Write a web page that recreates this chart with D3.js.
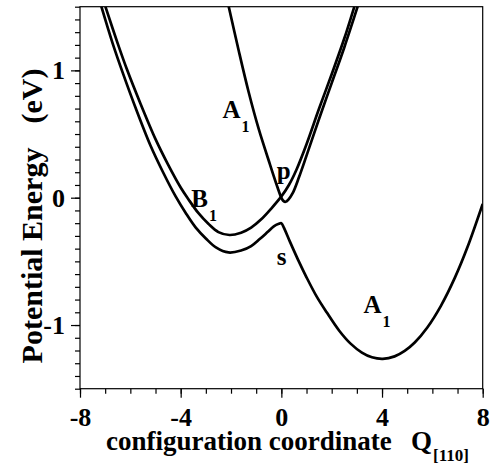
<!DOCTYPE html>
<html>
<head>
<meta charset="utf-8">
<script src="https://cdn.jsdelivr.net/npm/d3@7"></script>
<style>
  body { margin: 0; background: #fff; }
  text { font-family: "Liberation Serif", "Times New Roman", serif; font-weight: bold; fill: #000; }
</style>
</head>
<body>
<svg id="chart" width="493" height="476"></svg>
<script>
// values: Q = configuration coordinate, E = energy (eV)
const upperB1Q = [-6.99, -6.5, -6.14, -5.6, -5.0, -4.5, -4.0, -3.7, -3.3, -2.9, -2.5, -2.06, -1.6, -1.2, -0.8, -0.4, 0, 0.3, 0.6, 1.0, 1.5, 2.0, 2.5, 2.9];
const upperB1E = [1.5, 1.21, 1.01, 0.74, 0.46, 0.26, 0.08, -0.01, -0.12, -0.205, -0.27, -0.293, -0.275, -0.235, -0.17, -0.085, 0.01, 0.1, 0.22, 0.42, 0.7, 0.97, 1.25, 1.5];

const lowerQ = [-7.15, -6.7, -6.3, -5.8, -5.2, -4.7, -4.2, -3.8, -3.4, -3.0, -2.6, -2.1, -1.6, -1.2, -0.86, -0.55, -0.3, -0.1, 0.0, 0.1, 0.34, 0.67, 1.0, 1.4, 1.8, 2.3, 2.74, 3.2, 3.6, 4.03, 4.5, 4.9, 5.3, 5.8, 6.34, 6.9, 7.4, 8.0];
const lowerE = [1.5, 1.21, 0.98, 0.71, 0.41, 0.2, 0.01, -0.12, -0.235, -0.32, -0.39, -0.43, -0.415, -0.38, -0.325, -0.27, -0.225, -0.205, -0.2, -0.235, -0.345, -0.49, -0.625, -0.775, -0.9, -1.045, -1.144, -1.216, -1.253, -1.265, -1.246, -1.203, -1.137, -1.019, -0.849, -0.626, -0.386, -0.049];

const upperA1Q = [-2.09, -1.7, -1.3, -0.9, -0.45, -0.15, 0.0, 0.08, 0.17, 0.28, 0.45, 0.7, 1.0, 1.5, 2.0, 2.5, 3.03];
const upperA1E = [1.5, 1.16, 0.83, 0.54, 0.26, 0.08, 0.0, -0.025, -0.032, -0.015, 0.035, 0.16, 0.33, 0.62, 0.9, 1.18, 1.5];

const xMajorTicks = [-8, -4, 0, 4, 8];
const yMajorTicks = [-1, 0, 1];

// state labels: main letter, subscript, position in data units
const labelText = ["A", "p", "B", "s", "A"];
const labelSub = ["1", "", "1", "", "1"];
const labelQ = [-2.34, -0.18, -3.58, -0.18, 3.26];
const labelE = [0.625, 0.147, -0.073, -0.528, -0.904];

const svg = d3.select("#chart");
const plotLeft = 80, plotRight = 482.7, plotTop = 6.7, plotBottom = 388.7;

const x = d3.scaleLinear().domain([-8, 8]).range([plotLeft, plotRight]);
const y = d3.scaleLinear().domain([-1.5, 1.5]).range([plotBottom, plotTop]);

svg.append("clipPath").attr("id", "clip")
  .append("rect")
  .attr("x", plotLeft).attr("y", plotTop)
  .attr("width", plotRight - plotLeft).attr("height", plotBottom - plotTop);

// minor ticks
svg.append("g")
  .attr("transform", `translate(0,${plotBottom})`)
  .call(d3.axisBottom(x).tickValues(d3.range(-8, 9, 1)).tickSize(5).tickSizeOuter(0).tickFormat(""))
  .call(g => g.select(".domain").remove());
svg.append("g")
  .attr("transform", `translate(${plotLeft},0)`)
  .call(d3.axisLeft(y).tickValues(d3.range(-15, 16, 1).map(d => d / 10)).tickSize(5).tickSizeOuter(0).tickFormat(""))
  .call(g => g.select(".domain").remove());

// major ticks with labels
const xAxis = svg.append("g")
  .attr("transform", `translate(0,${plotBottom})`)
  .call(d3.axisBottom(x).tickValues(xMajorTicks).tickSize(9).tickPadding(10).tickFormat(d => String(d)));
const yAxis = svg.append("g")
  .attr("transform", `translate(${plotLeft},0)`)
  .call(d3.axisLeft(y).tickValues(yMajorTicks).tickSize(9).tickPadding(6).tickFormat(d => String(d)));
[xAxis, yAxis].forEach(g => {
  g.select(".domain").remove();
  g.attr("font-family", null).attr("font-size", null);
  g.selectAll("text").style("font-size", "26px");
});
svg.selectAll(".tick line").attr("stroke", "#000").attr("stroke-width", 1.2);

// frame
svg.append("rect")
  .attr("x", plotLeft).attr("y", plotTop)
  .attr("width", plotRight - plotLeft).attr("height", plotBottom - plotTop)
  .attr("fill", "none").attr("stroke", "#000").attr("stroke-width", 1.2);

const line = d3.line()
  .x(d => x(d[0]))
  .y(d => y(d[1]))
  .curve(d3.curveCatmullRom.alpha(0.5));

const curves = [
  d3.zip(upperB1Q, upperB1E),
  d3.zip(lowerQ, lowerE),
  d3.zip(upperA1Q, upperA1E)
];

svg.append("g").attr("clip-path", "url(#clip)")
  .selectAll("path")
  .data(curves)
  .join("path")
  .attr("d", line)
  .attr("fill", "none")
  .attr("stroke", "#000")
  .attr("stroke-width", 2.7)
  .attr("stroke-linejoin", "round");

// labels
const lab = svg.append("g").selectAll("text")
  .data(d3.range(labelText.length))
  .join("text")
  .attr("x", i => x(labelQ[i]))
  .attr("y", i => y(labelE[i]))
  .style("font-size", "25px");
lab.append("tspan").text(i => labelText[i]);
lab.append("tspan")
  .attr("dx", 1)
  .attr("dy", 14)
  .style("font-size", "16px")
  .text(i => labelSub[i]);

// axis titles
const xt = svg.append("text")
  .attr("x", 106).attr("y", 450)
  .style("font-size", "27px");
xt.append("tspan").text("configuration coordinate");
xt.append("tspan").attr("x", 411).text("Q");
xt.append("tspan").attr("x", 433).attr("dy", 11).style("font-size", "17px").text("[110]");

const yt = svg.append("text")
  .attr("transform", `translate(42,216) rotate(-90)`)
  .attr("text-anchor", "middle")
  .style("font-size", "30px");
yt.append("tspan").text("Potential Energy");
yt.append("tspan").attr("dx", 24).text("(eV)");
</script>
</body>
</html>
